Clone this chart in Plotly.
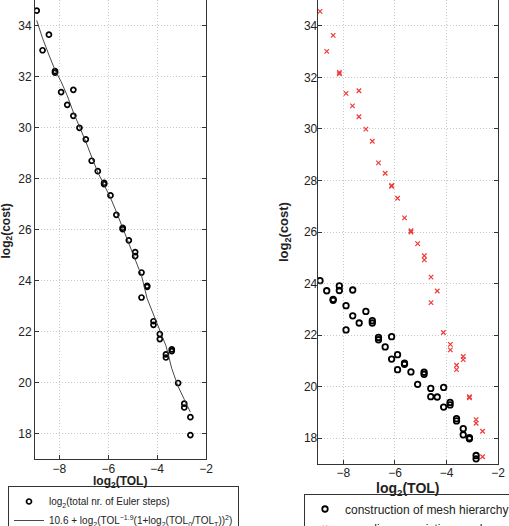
import plotly.graph_objects as go

# ---- left panel: total cost ----
tol_total = [-8.93, -8.69, -8.43, -8.18, -8.18, -7.93, -7.43, -7.68, -7.43, -7.18,
             -6.92, -6.68, -6.43, -6.17, -6.17, -5.91, -5.67, -5.41, -5.41, -5.16,
             -4.90, -4.90, -4.64, -4.41, -4.41, -4.64, -4.15, -4.15, -3.89, -3.89,
             -3.64, -3.64, -3.40, -3.40, -3.14, -2.89, -2.89, -2.64, -2.64]
cost_total = [34.58, 33.03, 33.64, 32.21, 32.15, 31.39, 31.48, 30.89, 30.46, 29.99,
              29.54, 28.70, 28.29, 27.83, 27.78, 27.34, 26.58, 26.07, 26.02, 25.58,
              25.12, 24.96, 24.32, 23.80, 23.76, 23.34, 22.41, 22.27, 21.91, 21.71,
              21.11, 20.99, 21.31, 21.24, 19.99, 19.18, 19.03, 18.65, 17.95]

tol_fit = [-8.93, -8.69, -8.43, -8.18, -7.93, -7.68, -7.43, -7.18, -6.92, -6.68,
           -6.43, -6.17, -5.91, -5.67, -5.41, -5.16, -4.90, -4.64, -4.41, -4.15,
           -3.89, -3.64, -3.40, -3.14, -2.89, -2.64]
cost_fit = [34.20, 33.50, 32.85, 32.25, 31.80, 31.25, 30.60, 30.05, 29.45, 28.85,
            28.25, 27.75, 27.25, 26.70, 26.05, 25.45, 24.85, 24.20, 23.30, 22.70,
            22.05, 21.45, 20.55, 19.85, 19.35, 18.85]

# ---- right panel: split of cost ----
tol_mesh = [-8.91, -8.65, -8.40, -8.40, -8.16, -8.16, -7.90, -7.90, -7.64, -7.64,
            -7.39, -7.13, -6.88, -6.88, -6.64, -6.64, -6.38, -6.13, -6.13, -5.90,
            -5.90, -5.63, -5.63, -5.38, -5.12, -4.87, -4.87, -4.61, -4.61, -4.36,
            -4.11, -4.11, -3.86, -3.86, -3.61, -3.61, -3.35, -3.35, -3.11, -3.11,
            -2.85, -2.85]
cost_mesh = [24.11, 23.72, 23.39, 23.35, 23.91, 23.73, 23.14, 22.20, 23.75, 22.75,
             22.47, 22.92, 22.56, 22.47, 21.91, 21.82, 21.54, 21.94, 21.07, 21.24,
             20.66, 20.91, 20.87, 20.57, 20.09, 20.56, 20.48, 19.93, 19.61, 19.60,
             19.97, 19.21, 19.39, 19.29, 18.76, 18.67, 18.37, 18.13, 18.02, 17.98,
             17.33, 17.20]

tol_sample = [-8.91, -8.65, -8.40, -8.16, -8.16, -7.90, -7.40, -7.65, -7.40, -7.13,
              -6.88, -6.64, -6.38, -6.13, -6.13, -5.90, -5.63, -5.38, -5.38, -5.12,
              -4.86, -4.86, -4.60, -4.36, -4.60, -4.12, -3.85, -3.85, -3.61, -3.61,
              -3.35, -3.35, -3.11, -3.11, -2.85, -2.85, -2.60, -2.60]
cost_sample = [34.56, 33.01, 33.63, 32.19, 32.14, 31.38, 31.48, 30.89, 30.47, 29.99,
               29.52, 28.68, 28.28, 27.81, 27.77, 27.31, 26.55, 26.05, 26.00, 25.55,
               25.08, 24.92, 24.25, 23.71, 23.26, 22.10, 21.64, 21.43, 20.83, 20.66,
               21.17, 21.05, 19.61, 19.57, 18.72, 18.58, 18.27, 17.28]

x_ticks = [-8, -6, -4, -2]
y_ticks = [18, 20, 22, 24, 26, 28, 30, 32, 34]
x_title = "<b>log<sub>2</sub>(TOL)</b>"
y_title = "<b>log<sub>2</sub>(cost)</b>"

FONT = "Liberation Sans, Arial, Helvetica, sans-serif"
W, H = 509, 526

fig = go.Figure()

fig.add_trace(go.Scatter(
    x=tol_total, y=cost_total, mode="markers",
    name="log<sub>2</sub>(total nr. of Euler steps)",
    marker=dict(symbol="circle-open", size=5, color="black", line=dict(width=1.7, color="black")),
    xaxis="x", yaxis="y", legend="legend"))
fig.add_trace(go.Scatter(
    x=tol_fit, y=cost_fit, mode="lines",
    name="10.6 + log<sub>2</sub>(TOL<sup>−1.9</sup>(1+log<sub>2</sub>(TOL<sub>0</sub>/TOL<sub>T</sub>))<sup>2</sup>)",
    line=dict(color="#333333", width=0.9),
    xaxis="x", yaxis="y", legend="legend"))

fig.add_trace(go.Scatter(
    x=tol_mesh, y=cost_mesh, mode="markers",
    name="construction of mesh hierarchy",
    marker=dict(symbol="circle-open", size=5.5, color="black", line=dict(width=1.8, color="black")),
    xaxis="x2", yaxis="y2", legend="legend2"))
fig.add_trace(go.Scatter(
    x=tol_sample, y=cost_sample, mode="markers",
    name="sampling on existing meshes",
    marker=dict(symbol="x-thin-open", size=4.5, color="#f03a3a", line=dict(width=1.2, color="#f03a3a")),
    xaxis="x2", yaxis="y2", legend="legend2"))

axis_common = dict(
    showline=True, linecolor="#333333", linewidth=1,
    ticks="inside", ticklen=4, tickcolor="#333333",
    showgrid=True, gridcolor="#c8c8c8", griddash="1px,2px", gridwidth=1,
    zeroline=False, automargin=False, ticklabeloverflow="allow",
    tickfont=dict(family=FONT, size=12, color="#222222"),
)

def title_ann(text, px, py, size, angle=0):
    return dict(text=text, x=px / W, y=1 - py / H, xref="paper", yref="paper",
                xanchor="center", yanchor="middle", showarrow=False, textangle=angle,
                font=dict(family=FONT, size=size, color="#222222"))

fig.update_layout(
    width=W, height=H,
    margin=dict(l=0, r=0, t=0, b=0, autoexpand=False),
    paper_bgcolor="white", plot_bgcolor="white",
    font=dict(family=FONT, color="#222222"),
    xaxis=dict(axis_common, domain=[35 / W, 206 / W], range=[-9, -2], tickvals=x_ticks,
               anchor="y", mirror=False, ticklabelstandoff=-2),
    yaxis=dict(axis_common, domain=[1 - 459.3 / H, 1], range=[17, 35], tickvals=y_ticks,
               anchor="x", mirror="ticks"),
    xaxis2=dict(axis_common, domain=[317.7 / W, 498 / W], range=[-9, -2], tickvals=x_ticks,
                anchor="y2", mirror=False, ticklabelstandoff=-2),
    yaxis2=dict(axis_common, domain=[1 - 464 / H, 1], range=[17, 35], tickvals=y_ticks,
                anchor="x2", mirror="ticks", ticklabelstandoff=-3),
    annotations=[
        title_ann(x_title, 120, 482, 12),
        title_ann(y_title, 6.5, 231, 12, -90),
        title_ann(x_title, 408, 488.5, 14),
        title_ann(y_title, 284, 232, 13, -90),
    ],
    legend=dict(x=8 / W, y=1 - 486 / H, xanchor="left", yanchor="top",
                bordercolor="#333333", borderwidth=1, bgcolor="white",
                font=dict(family=FONT, size=10, color="#222222"), tracegroupgap=0,
                itemwidth=30),
    legend2=dict(x=304 / W, y=1 - 493.5 / H, xanchor="left", yanchor="top",
                 bordercolor="#333333", borderwidth=1, bgcolor="white",
                 font=dict(family=FONT, size=12, color="#222222"), tracegroupgap=0,
                 itemwidth=30),
    showlegend=True,
)

fig.write_html("out.html", config={"displayModeBar": False},
               post_script="document.body.style.margin='0';")
